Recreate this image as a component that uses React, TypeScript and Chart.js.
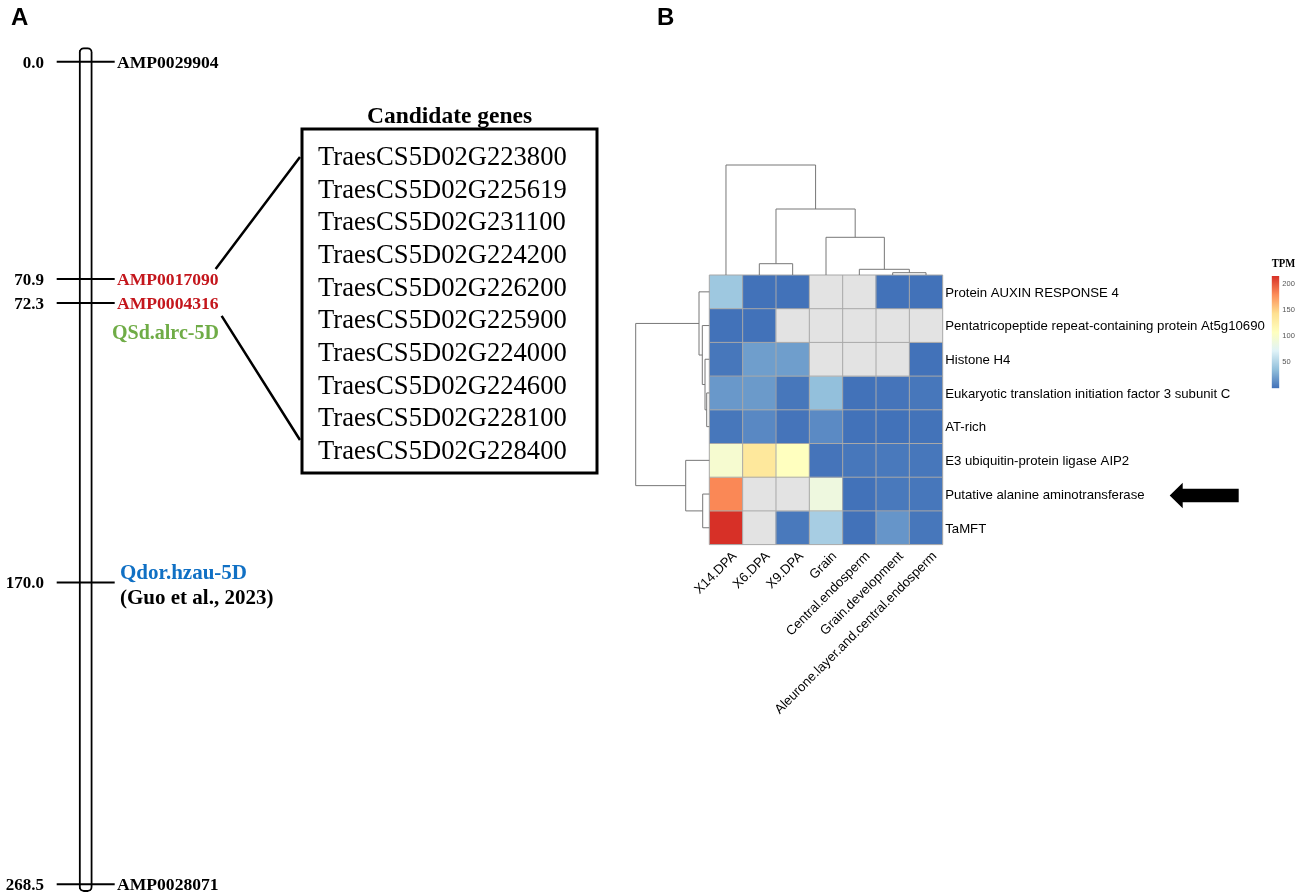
import React, { useEffect, useRef } from 'react';
import { Chart, registerables } from 'chart.js';

Chart.register(...registerables);

// ---------------- Panel A data ----------------
const markerPositions = [0.0, 70.9, 72.3, 170.0, 268.5];
const markerNames = ['AMP0029904', 'AMP0017090', 'AMP0004316', 'Qdor.hzau-5D', 'AMP0028071'];
const markerNotes = ['', '', '', '(Guo et al., 2023)', ''];
const qtlName = 'QSd.alrc-5D';
const qtlMarkerIndex = 2;
const chromosomeSpan = [-4.6, 270.9];
const chromosomeName = '5D';
const candidateGenesTitle = 'Candidate genes';
const candidateGenes = [
  'TraesCS5D02G223800',
  'TraesCS5D02G225619',
  'TraesCS5D02G231100',
  'TraesCS5D02G224200',
  'TraesCS5D02G226200',
  'TraesCS5D02G225900',
  'TraesCS5D02G224000',
  'TraesCS5D02G224600',
  'TraesCS5D02G228100',
  'TraesCS5D02G228400',
];

// ---------------- Panel B data ----------------
const sampleNames = [
  'X14.DPA',
  'X6.DPA',
  'X9.DPA',
  'Grain',
  'Central.endosperm',
  'Grain.development',
  'Aleurone.layer.and.central.endosperm',
];
const geneNames = [
  'Protein AUXIN RESPONSE 4',
  'Pentatricopeptide repeat-containing protein At5g10690',
  'Histone H4',
  'Eukaryotic translation initiation factor 3 subunit C',
  'AT-rich',
  'E3 ubiquitin-protein ligase AIP2',
  'Putative alanine aminotransferase',
  'TaMFT',
];
const tpmAuxinResponse4 = [42, 1, 1, null, null, 1, 1];
const tpmPentatricopeptide = [1, 1, null, null, null, null, null];
const tpmHistoneH4 = [3, 21, 21, null, null, null, 1];
const tpmEIF3C = [18, 19, 3, 37, 1, 2, 3];
const tpmATRich = [3, 11, 2, 12, 1, 1, 1.5];
const tpmE3Ligase = [97, 135, 108, 2, 3, 4, 3];
const tpmAlanineAT = [182, null, null, 88, 1, 4, 3];
const tpmTaMFT = [216, null, 4, 46, 1, 17, 3];
const tpmRows = [
  tpmAuxinResponse4,
  tpmPentatricopeptide,
  tpmHistoneH4,
  tpmEIF3C,
  tpmATRich,
  tpmE3Ligase,
  tpmAlanineAT,
  tpmTaMFT,
];
// hclust-like merges: [left, right, height]; leaves 0..n-1, merge k -> node n+k
const colMerge = [
  [5, 6, 2.3],
  [4, 7, 5.7],
  [3, 8, 37.7],
  [1, 2, 11.3],
  [10, 9, 66],
  [0, 11, 110],
];
const rowMerge = [
  [3, 4, 2.6],
  [2, 8, 4.3],
  [1, 9, 7.0],
  [0, 10, 10.3],
  [6, 7, 6.6],
  [5, 12, 23.6],
  [11, 13, 73.6],
];
const highlightedGene = 'Putative alanine aminotransferase';
const legendTitle = 'TPM';
const legendStep = 50;

// ---------------- Styles ----------------
const SERIF = '"Liberation Serif", "Times New Roman", serif';
const SANS = '"Liberation Sans", Arial, Helvetica, sans-serif';
const RED = '#c4161c';
const BLUE = '#1070c4';
const GREEN = '#6fac46';
const markerColors = ['#000000', RED, RED, BLUE, '#000000'];
const PALETTE = ['#4070b8', '#91bfdb', '#e0f3f8', '#ffffbf', '#fee090', '#fc8d59', '#d73027'];
const NA_COLOR = '#e3e3e3';
const CELL_BORDER = '#a8a8a8';
const TREE_COLOR = '#777777';

const A_W = 620;
const A_H = 896;
const A_PAD = { left: 60, right: A_W - 111.4, top: 61.7, bottom: 11.7 };
const LABEL_GAP_PX = 24;

const B_LEFT = 620;
const B_W = 679;
const B_H = 896;
const B_PAD = { left: 709.3 - B_LEFT, right: B_W - (942.7 - B_LEFT), top: 275, bottom: 896 - 544.6 };
const COL_TREE_PX = 110;
const ROW_TREE_PX = 73.6;
const HEAT_FONT = 13.2;

const yMin = Math.min(...markerPositions);
const yMax = Math.max(...markerPositions);
const pxPerCM = (A_H - A_PAD.top - A_PAD.bottom) / (yMax - yMin);
const displayPositions: number[] = [];
markerPositions.forEach((p, i) => {
  const minGap = LABEL_GAP_PX / pxPerCM;
  displayPositions.push(i === 0 ? p : Math.max(p, displayPositions[i - 1] + minGap));
});

const allTpm = tpmRows.flat().filter((v) => v !== null) as number[];
const tpmMin = 0;
const tpmMax = Math.max(...allTpm);

function hexToRgb(h: string) {
  const n = parseInt(h.slice(1), 16);
  return [(n >> 16) & 255, (n >> 8) & 255, n & 255];
}
function colorFor(v: number | null) {
  if (v === null || v === undefined) return NA_COLOR;
  let t = (v - tpmMin) / (tpmMax - tpmMin);
  t = Math.max(0, Math.min(1, t));
  const seg = t * (PALETTE.length - 1);
  const i = Math.min(PALETTE.length - 2, Math.floor(seg));
  const f = seg - i;
  const a = hexToRgb(PALETTE[i]);
  const b = hexToRgb(PALETTE[i + 1]);
  const c = a.map((x, k) => Math.round(x + (b[k] - x) * f));
  return `rgb(${c[0]},${c[1]},${c[2]})`;
}

// ---------------- Panel A ----------------
const panelAPlugin = {
  id: 'panelA',
  afterDatasetsDraw(chart: any) {
    const { ctx } = chart;
    const y = chart.scales.y;
    const py = displayPositions.map((p) => y.getPixelForValue(p));
    ctx.save();
    ctx.textBaseline = 'alphabetic';
    ctx.fillStyle = '#000';
    ctx.font = `bold 24px ${SANS}`;
    ctx.textAlign = 'left';
    ctx.fillText('A', 11, 25);

    ctx.font = `bold 17px ${SERIF}`;
    ctx.textAlign = 'right';
    markerPositions.forEach((p, i) => ctx.fillText(p.toFixed(1), 44, py[i] + 5.8));

    ctx.textAlign = 'left';
    const ends: number[] = [];
    markerNames.forEach((name, i) => {
      ctx.fillStyle = markerColors[i];
      if (markerNotes[i]) {
        ctx.font = `bold 21px ${SERIF}`;
        ctx.fillText(name, 120, py[i] - 11 + 7);
        ends[i] = 120 + ctx.measureText(name).width;
        ctx.fillStyle = '#000';
        ctx.fillText(markerNotes[i], 120, py[i] + 14 + 7);
      } else {
        ctx.font = `bold 17.6px ${SERIF}`;
        ctx.fillText(name, 117, py[i] + 6);
        ends[i] = 117 + ctx.measureText(name).width;
      }
    });
    ctx.fillStyle = GREEN;
    ctx.font = `bold 20px ${SERIF}`;
    ctx.fillText(qtlName, 112, py[qtlMarkerIndex] + 29.4 + 6.6);

    // candidate box
    const boxL = 302, boxT = 129, boxR = 597, boxB = 473;
    const geneBase0 = 165, geneStep = 32.67;
    ctx.fillStyle = '#000';
    ctx.font = `bold 23.5px ${SERIF}`;
    ctx.textAlign = 'center';
    ctx.fillText(candidateGenesTitle, (boxL + boxR) / 2, 123);
    ctx.lineWidth = 3;
    ctx.strokeStyle = '#000';
    ctx.strokeRect(boxL, boxT, boxR - boxL, boxB - boxT);
    ctx.font = `26.6px ${SERIF}`;
    ctx.textAlign = 'left';
    candidateGenes.forEach((g, i) => ctx.fillText(g, 318, geneBase0 + i * geneStep));

    // connectors
    ctx.lineWidth = 2.5;
    ctx.beginPath();
    ctx.moveTo(ends[1] - 3, py[1] - 10);
    ctx.lineTo(boxL - 2, geneBase0 - 8);
    ctx.moveTo(ends[2] + 3, py[2] + 13);
    ctx.lineTo(boxL - 2, geneBase0 + (candidateGenes.length - 1) * geneStep - 19);
    ctx.stroke();
    ctx.restore();
  },
};

function configA(): any {
  return {
    type: 'bar',
    data: {
      labels: [chromosomeName],
      datasets: [
        {
          type: 'line',
          data: displayPositions.map((p) => ({ x: chromosomeName, y: p })),
          showLine: false,
          pointStyle: 'line',
          pointRadius: 29,
          pointBorderWidth: 2,
          pointBorderColor: '#000',
          pointBackgroundColor: '#000',
          clip: false,
          order: 0,
        },
        {
          type: 'bar',
          data: [chromosomeSpan],
          backgroundColor: '#ffffff',
          borderColor: '#000000',
          borderWidth: 2,
          borderSkipped: false,
          borderRadius: 5,
          barThickness: 13.3,
          clip: false,
          order: 1,
        },
      ],
    },
    options: {
      responsive: false,
      animation: false,
      events: [],
      layout: { padding: A_PAD, autoPadding: false },
      scales: {
        x: { display: false },
        y: { display: false, min: yMin, max: yMax, reverse: true },
      },
      plugins: { legend: { display: false }, tooltip: { enabled: false } },
    },
    plugins: [panelAPlugin],
  };
}

// ---------------- Panel B ----------------
function layoutTree(merge: number[][], n: number) {
  const pos: number[] = [];
  const ht: number[] = [];
  for (let i = 0; i < n; i++) {
    pos[i] = i;
    ht[i] = 0;
  }
  merge.forEach(([a, b, h], k) => {
    pos[n + k] = (pos[a] + pos[b]) / 2;
    ht[n + k] = h;
  });
  return { pos, ht };
}

const heatmapPlugin = {
  id: 'heatmapDecor',
  afterDatasetsDraw(chart: any) {
    const { ctx, chartArea: ca } = chart;
    const x = chart.scales.x;
    const y = chart.scales.y;
    ctx.save();
    // cell borders from the scales
    ctx.strokeStyle = CELL_BORDER;
    ctx.lineWidth = 1;
    ctx.beginPath();
    for (let i = 0; i <= sampleNames.length; i++) {
      const px = x.getPixelForValue(i - 0.5);
      ctx.moveTo(px, ca.top);
      ctx.lineTo(px, ca.bottom);
    }
    for (let r = 0; r <= geneNames.length; r++) {
      const py = y.getPixelForValue(r);
      ctx.moveTo(ca.left, py);
      ctx.lineTo(ca.right, py);
    }
    ctx.stroke();
    ctx.restore();
  },
  afterDraw(chart: any) {
    const { ctx, chartArea: ca } = chart;
    const x = chart.scales.x;
    const y = chart.scales.y;
    ctx.save();

    // panel letter
    ctx.fillStyle = '#000';
    ctx.font = `bold 24px ${SANS}`;
    ctx.textAlign = 'left';
    ctx.textBaseline = 'alphabetic';
    ctx.fillText('B', 657 - B_LEFT, 25);

    // dendrograms
    ctx.strokeStyle = TREE_COLOR;
    ctx.lineWidth = 1;
    const ct = layoutTree(colMerge, sampleNames.length);
    const cMax = Math.max(...colMerge.map((m) => m[2]));
    const cx = (p: number) => x.getPixelForValue(p);
    const cy = (h: number) => ca.top - (h / cMax) * COL_TREE_PX;
    ctx.beginPath();
    colMerge.forEach(([a, b, h]) => {
      ctx.moveTo(cx(ct.pos[a]), cy(ct.ht[a]));
      ctx.lineTo(cx(ct.pos[a]), cy(h));
      ctx.lineTo(cx(ct.pos[b]), cy(h));
      ctx.lineTo(cx(ct.pos[b]), cy(ct.ht[b]));
    });
    ctx.stroke();

    const rt = layoutTree(rowMerge, geneNames.length);
    const rMax = Math.max(...rowMerge.map((m) => m[2]));
    const ry = (p: number) => y.getPixelForValue(p + 0.5);
    const rx = (h: number) => ca.left - (h / rMax) * ROW_TREE_PX;
    ctx.beginPath();
    rowMerge.forEach(([a, b, h]) => {
      ctx.moveTo(rx(rt.ht[a]), ry(rt.pos[a]));
      ctx.lineTo(rx(h), ry(rt.pos[a]));
      ctx.lineTo(rx(h), ry(rt.pos[b]));
      ctx.lineTo(rx(rt.ht[b]), ry(rt.pos[b]));
    });
    ctx.stroke();

    // row labels
    ctx.fillStyle = '#000';
    ctx.font = `${HEAT_FONT}px ${SANS}`;
    ctx.textAlign = 'left';
    geneNames.forEach((g, i) => ctx.fillText(g, ca.right + 2.5, ry(i) + HEAT_FONT * 0.36));

    // column labels
    sampleNames.forEach((s, i) => {
      ctx.save();
      ctx.translate(x.getPixelForValue(i) + 4, ca.bottom + 5);
      ctx.rotate(-Math.PI / 4);
      ctx.textAlign = 'right';
      ctx.textBaseline = 'top';
      ctx.fillText(s, 0, 0);
      ctx.restore();
    });

    // arrow marking the highlighted gene
    const hi = geneNames.indexOf(highlightedGene);
    if (hi >= 0) {
      const ay = ry(hi) + 1.5;
      const tip = ca.right + 227;
      const head = tip + 13;
      const end = ca.right + 296;
      ctx.fillStyle = '#000';
      ctx.beginPath();
      ctx.moveTo(tip, ay);
      ctx.lineTo(head, ay - 12.7);
      ctx.lineTo(head, ay - 6.7);
      ctx.lineTo(end, ay - 6.7);
      ctx.lineTo(end, ay + 6.7);
      ctx.lineTo(head, ay + 6.7);
      ctx.lineTo(head, ay + 12.7);
      ctx.closePath();
      ctx.fill();
    }
    ctx.restore();
  },
};

function configB(): any {
  return {
    type: 'bar',
    data: {
      labels: sampleNames,
      datasets: geneNames.map((g, r) => ({
        label: g,
        data: sampleNames.map(() => [r, r + 1]),
        backgroundColor: tpmRows[r].map((v) => colorFor(v)),
        borderWidth: 0,
        barPercentage: 1,
        categoryPercentage: 1,
        grouped: false,
      })),
    },
    options: {
      responsive: false,
      animation: false,
      events: [],
      layout: { padding: B_PAD, autoPadding: false },
      scales: {
        x: { type: 'category', display: false, offset: true },
        y: { type: 'linear', display: false, min: 0, max: geneNames.length, reverse: true },
      },
      plugins: { legend: { display: false }, tooltip: { enabled: false } },
    },
    plugins: [heatmapPlugin],
  };
}

// ---------------- Colour legend ----------------
function configL(): any {
  return {
    type: 'bar',
    data: {
      labels: [legendTitle],
      datasets: [
        {
          data: [[tpmMin, tpmMax]],
          backgroundColor: (c: any) => {
            const chart = c.chart;
            const ys = chart.scales.y;
            if (!chart.chartArea || !ys) return PALETTE[0];
            const g = chart.ctx.createLinearGradient(0, ys.getPixelForValue(tpmMin), 0, ys.getPixelForValue(tpmMax));
            PALETTE.forEach((col, i) => g.addColorStop(i / (PALETTE.length - 1), col));
            return g;
          },
          borderWidth: 0,
          barPercentage: 1,
          categoryPercentage: 1,
        },
      ],
    },
    options: {
      responsive: false,
      animation: false,
      events: [],
      layout: { padding: { left: 9.7, right: 3.7, top: 0, bottom: 11.7 }, autoPadding: false },
      plugins: {
        legend: { display: false },
        tooltip: { enabled: false },
        title: {
          display: true,
          text: legendTitle,
          color: '#000',
          font: { family: SERIF, weight: 'bold', size: 12 },
          padding: { top: 2, bottom: 4.6 },
        },
      },
      scales: {
        x: { display: false },
        y: {
          position: 'right',
          min: tpmMin,
          max: tpmMax,
          grid: { display: false, drawTicks: false },
          border: { display: false },
          ticks: {
            stepSize: legendStep,
            includeBounds: false,
            padding: 3,
            color: '#555',
            font: { family: SANS, size: 7.5 },
            callback: (v: number) => (v === 0 ? '' : String(v)),
          },
          afterFit: (s: any) => {
            s.width = 16;
          },
        },
      },
    },
  };
}

export default function App() {
  const aRef = useRef<HTMLCanvasElement>(null);
  const bRef = useRef<HTMLCanvasElement>(null);
  const lRef = useRef<HTMLCanvasElement>(null);

  useEffect(() => {
    const charts = [
      new Chart(aRef.current as HTMLCanvasElement, configA()),
      new Chart(bRef.current as HTMLCanvasElement, configB()),
      new Chart(lRef.current as HTMLCanvasElement, configL()),
    ];
    return () => charts.forEach((c) => c.destroy());
  }, []);

  return (
    <div style={{ position: 'absolute', left: 0, top: 0, width: 1299, height: 896, background: '#fff', overflow: 'hidden' }}>
      <canvas ref={aRef} width={A_W} height={A_H} style={{ position: 'absolute', left: 0, top: 0 }} />
      <canvas ref={bRef} width={B_W} height={B_H} style={{ position: 'absolute', left: B_LEFT, top: 0 }} />
      <canvas ref={lRef} width={37} height={145} style={{ position: 'absolute', left: 1262, top: 255 }} />
    </div>
  );
}
